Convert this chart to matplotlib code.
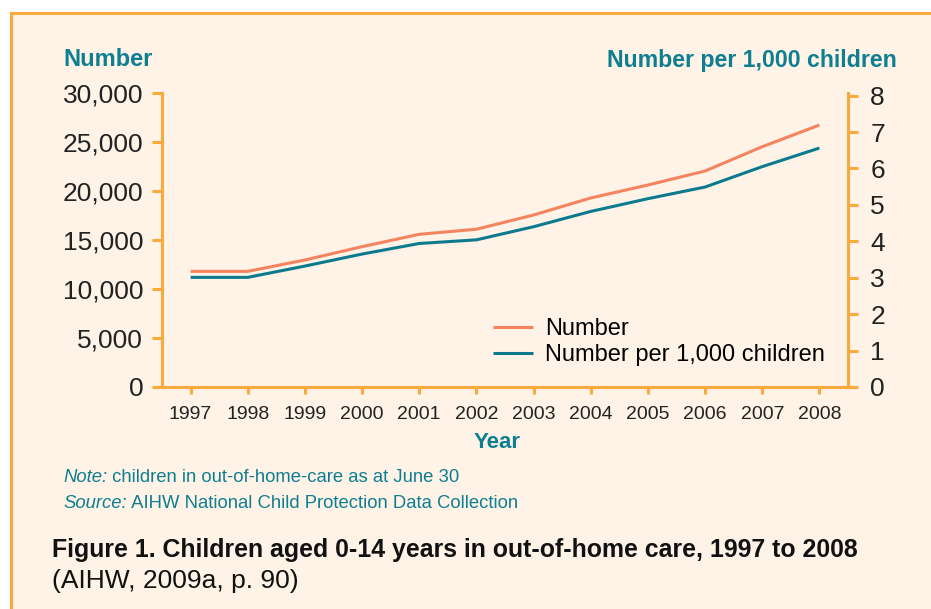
import matplotlib.pyplot as plt
from matplotlib.patches import Rectangle

# data
years = [1997, 1998, 1999, 2000, 2001, 2002, 2003, 2004, 2005, 2006, 2007, 2008]
number = [11800, 11800, 12960, 14320, 15580, 16100, 17550, 19290, 20610, 22040, 24520, 26730]
per_1000 = [3.01, 3.01, 3.32, 3.65, 3.94, 4.04, 4.40, 4.82, 5.17, 5.49, 6.05, 6.56]
left_ticks = [0, 5000, 10000, 15000, 20000, 25000, 30000]
right_ticks = [0, 1, 2, 3, 4, 5, 6, 7, 8]

plt.rcParams['font.family'] = ['Liberation Sans', 'DejaVu Sans']

c_orange = '#F9AA3C'
c_line1 = '#F4845F'
c_line2 = '#0B7A8E'
c_teal = '#0E7E91'
c_bg = '#FEF3E6'
c_text = '#222222'

W, H = 931, 609
fig = plt.figure(figsize=(W / 100, H / 100), dpi=100, facecolor='white')

# peach panel with orange border (top/left visible)
fig.patches.append(Rectangle((11 / W, -0.1), 1.2, 1 - 13 / H + 0.1,
                             transform=fig.transFigure, facecolor=c_bg,
                             edgecolor=c_orange, linewidth=2.2, zorder=-5))

ax = fig.add_axes([162 / W, 1 - 387 / H, (848 - 162) / W, (387 - 93) / H])
ax.set_facecolor('none')
ax2 = ax.twinx()
ax2.set_facecolor('none')

l1, = ax.plot(years, number, color=c_line1, lw=2.2, solid_capstyle='butt')
l2, = ax2.plot(years, per_1000, color=c_line2, lw=2.2, solid_capstyle='butt')

ax.set_xlim(1996.5, 2008.5)
ax.set_ylim(0, 30000)
ax2.set_ylim(0, 8 * 294 / 291.4)

ax.set_xticks(years)
ax.set_xticklabels([str(y) for y in years], fontsize=14, color=c_text)
ax.set_yticks(left_ticks)
ax.set_yticklabels([f'{v:,}' for v in left_ticks], fontsize=19, color=c_text)
ax2.set_yticks(right_ticks)
ax2.set_yticklabels([str(v) for v in right_ticks], fontsize=19, color=c_text)

for a in (ax, ax2):
    a.spines['top'].set_visible(False)
    for s in ('left', 'right', 'bottom'):
        a.spines[s].set_color(c_orange)
        a.spines[s].set_linewidth(2.2)
ax.spines['right'].set_visible(False)
ax2.spines['left'].set_visible(False)
ax2.spines['bottom'].set_visible(False)

ax.tick_params(axis='y', length=7, width=2.2, color=c_orange, pad=6.5)
ax.tick_params(axis='x', length=5, width=2.2, color=c_orange, pad=8.5)
ax2.tick_params(axis='y', length=7, width=2.2, color=c_orange, pad=9)

fig.text(63 / W, 1 - 60 / H, 'Number', fontsize=17, fontweight='bold',
         color=c_teal, ha='left', va='center')
fig.text(897 / W, 1 - 60 / H, 'Number per 1,000 children', fontsize=16.7,
         fontweight='bold', color=c_teal, ha='right', va='center')
fig.text(497 / W, 1 - 443 / H, 'Year', fontsize=16, fontweight='bold',
         color=c_teal, ha='center', va='center')

ax.legend([l1, l2], ['Number', 'Number per 1,000 children'], frameon=False,
          fontsize=17, loc='upper left', bbox_to_anchor=(493 / W, 1 - 318 / H),
          bbox_transform=fig.transFigure, borderpad=0, borderaxespad=0,
          handlelength=1.7, handletextpad=0.5, labelspacing=0.17)

# note and source lines, italic lead word then regular text
fig.canvas.draw()
renderer = fig.canvas.get_renderer()
for y, lead, rest in [(477, 'Note:', ' children in out-of-home-care as at June 30'),
                      (504, 'Source:', ' AIHW National Child Protection Data Collection')]:
    t = fig.text(63 / W, 1 - y / H, lead, fontsize=13.3, style='italic',
                 color=c_teal, ha='left', va='center')
    bb = t.get_window_extent(renderer)
    fig.text(bb.x1 / W, 1 - y / H, rest, fontsize=13.3, color=c_teal,
             ha='left', va='center')

fig.text(52 / W, 1 - 550 / H,
         'Figure 1. Children aged 0-14 years in out-of-home care, 1997 to 2008',
         fontsize=17.9, fontweight='bold', color='#111111', ha='left', va='center')
fig.text(52 / W, 1 - 581 / H, '(AIHW, 2009a, p. 90)', fontsize=19,
         color='#111111', ha='left', va='center')

fig.savefig('out.png', dpi=100, facecolor='white')
